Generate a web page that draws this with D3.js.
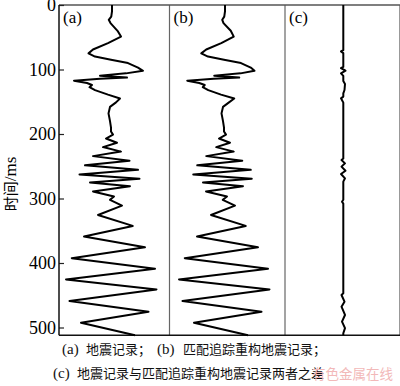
<!DOCTYPE html>
<html>
<head>
<meta charset="utf-8">
<script src="https://cdn.jsdelivr.net/npm/d3@7"></script>
<style>
  body { margin: 0; background: #fff; }
  svg { display: block; }
  .serif { font-family: "Liberation Serif", "DejaVu Serif", serif; }
  .cjk { font-family: "Noto Sans CJK SC", sans-serif; }
</style>
</head>
<body>
<svg id="chart" width="400" height="386"></svg>
<script>
// ---- data ----
// sample times (ms) of the seismic record and of the matched-pursuit reconstruction
const sampleTimes = [0, 10, 18, 23, 28, 40, 49, 59, 69, 75, 80, 85, 90, 97, 102, 106, 109.5, 112.5,
  114.5, 117.5, 121, 124, 127.5, 132, 139, 145, 151, 158, 168, 180, 190, 196, 201, 207, 213.5,
  220.3, 227.3, 234.3, 241.6, 248.6, 255.5, 262.7, 269.2, 275.2, 281, 289, 297, 302, 311, 325.5,
  342.5, 359, 375.6, 392.5, 409, 425.5, 441, 459, 475.7, 492.7, 512];

// (a) seismic record amplitude (normalised)
const recordAmp = [-0.045, -0.045, -0.06, -0.11, -0.075, 0.065, 0.135, -0.125, -0.425, -0.515, -0.385,
  -0.065, 0.275, 0.475, 0.575, 0.235, -0.285, 0.255, -0.285, -0.805, -0.545, -0.445, -0.495, -0.385,
  -0.125, 0.115, 0.035, -0.085, -0.115, -0.085, -0.065, -0.065, -0.025, -0.165, 0.055,
  -0.225, 0.135, -0.425, 0.305, -0.585, 0.475, -0.695, 0.505, -0.485, 0.315, -0.425, -0.005, -0.085,
  0.155, -0.325, 0.37, -0.605, 0.615, -0.85, 0.815, -0.965, 0.845, -0.895, 0.685, -0.665, 0.415];

// (b) matched-pursuit reconstruction amplitude
const matchedAmp = [-0.045, -0.045, -0.06, -0.1, -0.075, 0.07, 0.13, -0.12, -0.42, -0.52, -0.385,
  -0.065, 0.275, 0.47, 0.545, 0.265, -0.26, 0.24, -0.27, -0.8, -0.56, -0.45, -0.49, -0.38,
  -0.125, 0.14, 0.035, -0.085, -0.115, -0.085, -0.065, -0.065, -0.025, -0.165, 0.055,
  -0.22, 0.13, -0.42, 0.3, -0.6, 0.47, -0.68, 0.49, -0.485, 0.315, -0.425, -0.005, -0.09,
  0.155, -0.325, 0.37, -0.605, 0.615, -0.85, 0.815, -0.965, 0.845, -0.895, 0.685, -0.665, 0.415];

// (c) difference between the two
const residualTimes = [0, 70, 72, 74.6, 96, 98, 101.8, 106, 110, 118, 122.5, 131.8, 137, 142, 144.7,
  151.4, 238, 240.3, 245.5, 250.6, 257, 262, 268.7, 273.8, 302, 305, 308, 447, 449.6, 460, 467.7,
  480.6, 491, 501, 509, 512];
const residualAmp = [0.016, 0.016, -0.03, 0.016, 0.016, -0.03, 0.06, -0.03, 0.016, 0.016, 0.05,
  0.04, 0.016, 0.016, -0.03, 0.016, 0.016, -0.02, 0.05, -0.02, 0.06, -0.03, 0.05, 0.016, 0.016,
  -0.01, 0.016, 0.016, -0.02, 0.04, -0.02, 0.05, -0.01, 0.05, 0.016, 0.016];

const panelLabels = ["(a)", "(b)", "(c)"];
const timeTicks = [0, 100, 200, 300, 400, 500];
const timeMax = 512;

// ---- layout ----
const svg = d3.select("#chart");
const plot = { left: 59, right: 400, top: 5 };
const panelEdges = [59, 169.5, 285, 400];
const ampHalfWidth = 50;

const y = d3.scaleLinear().domain([0, 500]).range([plot.top, 327.5]);
const plotBottom = y(timeMax);

const panels = [
  { label: panelLabels[0], times: sampleTimes, amps: recordAmp },
  { label: panelLabels[1], times: sampleTimes, amps: matchedAmp },
  { label: panelLabels[2], times: residualTimes, amps: residualAmp }
];

// panel dividers
svg.selectAll("line.divider")
  .data(panelEdges.slice(1, 3))
  .join("line")
  .attr("class", "divider")
  .attr("x1", d => d).attr("x2", d => d)
  .attr("y1", plot.top).attr("y2", plotBottom)
  .attr("stroke", "#666").attr("stroke-width", 1.2);

// frame: top and right
svg.append("line")
  .attr("x1", plot.left).attr("x2", plot.right)
  .attr("y1", plot.top).attr("y2", plot.top)
  .attr("stroke", "#555").attr("stroke-width", 1.4);
svg.append("line")
  .attr("x1", plot.right).attr("x2", plot.right)
  .attr("y1", plot.top).attr("y2", plotBottom)
  .attr("stroke", "#555").attr("stroke-width", 1.2);

// bottom line
svg.append("line")
  .attr("x1", plot.left).attr("x2", plot.right)
  .attr("y1", plotBottom).attr("y2", plotBottom)
  .attr("stroke", "#111").attr("stroke-width", 1.5);

// traces
panels.forEach((p, i) => {
  const center = (panelEdges[i] + panelEdges[i + 1]) / 2;
  const x = d3.scaleLinear().domain([-1, 1]).range([center - ampHalfWidth, center + ampHalfWidth]);
  const line = d3.line()
    .x(d => x(d[1]))
    .y(d => y(d[0]))
    .curve(d3.curveLinear);
  const pts = p.times.map((t, k) => [t, p.amps[k]]);

  svg.append("path")
    .datum(pts)
    .attr("d", line)
    .attr("fill", "none")
    .attr("stroke", "#000")
    .attr("stroke-width", 2)
    .attr("stroke-linejoin", "round");

  svg.append("text")
    .attr("class", "serif")
    .attr("x", panelEdges[i] + 4)
    .attr("y", 22.5)
    .attr("font-size", 17)
    .text(p.label);
});

// time axis
const yAxis = d3.axisLeft(y)
  .tickValues(timeTicks)
  .tickSize(-5)
  .tickPadding(3)
  .tickFormat(d3.format("d"));

const axisG = svg.append("g")
  .attr("transform", `translate(${plot.left},0)`)
  .call(yAxis);
axisG.select(".domain").remove();
axisG.selectAll(".tick line").attr("stroke", "#222").attr("stroke-width", 1.2);
axisG.selectAll(".tick text")
  .attr("class", "serif")
  .attr("font-size", 18)
  .attr("fill", "#000");

svg.append("line")
  .attr("x1", plot.left).attr("x2", plot.left)
  .attr("y1", plot.top).attr("y2", plotBottom)
  .attr("stroke", "#111").attr("stroke-width", 1.5);

// axis title
const yTitle = svg.append("text")
  .attr("transform", "translate(16,184) rotate(-90)")
  .attr("text-anchor", "middle")
  .attr("font-size", 15);
yTitle.append("tspan").attr("class", "cjk").text("时间");
yTitle.append("tspan").attr("class", "serif").attr("font-size", 17).text("/ms");

// caption
const caption1 = [
  { x: 62, cls: "serif", text: "(a)" },
  { x: 86, cls: "cjk", text: "地震记录；" },
  { x: 157, cls: "serif", text: "(b)" },
  { x: 183, cls: "cjk", text: "匹配追踪重构地震记录；" }
];
const caption2 = [
  { x: 53, cls: "serif", text: "(c)" },
  { x: 77, cls: "cjk", text: "地震记录与匹配追踪重构地震记录两者之差" }
];
[[caption1, 354], [caption2, 378]].forEach(([parts, base]) => {
  svg.selectAll(null)
    .data(parts)
    .join("text")
    .attr("class", d => d.cls)
    .attr("x", d => d.x)
    .attr("y", base)
    .attr("font-size", d => d.cls === "serif" ? 15 : 13)
    .attr("fill", "#111")
    .text(d => d.text);
});

// watermark
svg.append("text")
  .attr("class", "cjk")
  .attr("x", 312)
  .attr("y", 379)
  .attr("font-size", 13.5)
  .attr("fill", "#f2b9b9")
  .text("有色金属在线");
</script>
</body>
</html>
